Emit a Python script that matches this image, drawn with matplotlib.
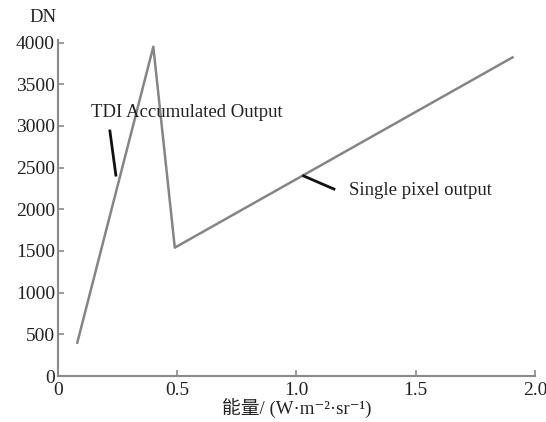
import matplotlib
matplotlib.use('Agg')
import matplotlib.pyplot as plt

# data
energy = [0.08, 0.40, 0.49, 1.91]
dn = [385, 3950, 1540, 3830]
x_ticks = [0, 0.5, 1.0, 1.5, 2.0]
x_tick_labels = ['0', '0.5', '1.0', '1.5', '2.0']
y_ticks = [0, 500, 1000, 1500, 2000, 2500, 3000, 3500, 4000]

plt.rcParams['font.family'] = ['Liberation Serif', 'DejaVu Serif', 'Noto Sans CJK SC']

fig = plt.figure(figsize=(5.46, 4.22), dpi=100)
ax = fig.add_axes([0.106, 0.109, 0.874, 0.796])

ax.plot(energy, dn, color='#858585', linewidth=1.8, solid_capstyle='butt')

ax.set_xlim(0, 2.0)
ax.set_ylim(0, 4030)
ax.set_xticks(x_ticks)
ax.set_xticklabels(x_tick_labels)
ax.set_yticks(y_ticks)

for side in ['top', 'right']:
    ax.spines[side].set_visible(False)
for side in ['left', 'bottom']:
    ax.spines[side].set_color('#8a8a8a')
    ax.spines[side].set_linewidth(1.5)
ax.tick_params(direction='in', length=4, width=1.2, color='#8a8a8a',
               labelsize=14, labelcolor='#222222')
ax.tick_params(axis='y', pad=2)
ax.tick_params(axis='x', pad=4)

ax.text(-0.12, 4200, 'DN', fontsize=13.5, color='#222222', ha='left', va='bottom')

ax.set_xlabel('能量/ (W·m⁻²·sr⁻¹)', fontsize=13.5, color='#222222', labelpad=0)

# annotations with leader lines
ax.text(0.54, 3160, 'TDI Accumulated Output', fontsize=13.5, color='#222222',
        ha='center', va='center')
ax.plot([0.218, 0.243], [2940, 2410], color='#111111', linewidth=2)
ax.text(1.22, 2220, 'Single pixel output', fontsize=13.5, color='#222222',
        ha='left', va='center')
ax.plot([1.03, 1.157], [2400, 2243], color='#111111', linewidth=2)

fig.savefig('out.png', dpi=100)
